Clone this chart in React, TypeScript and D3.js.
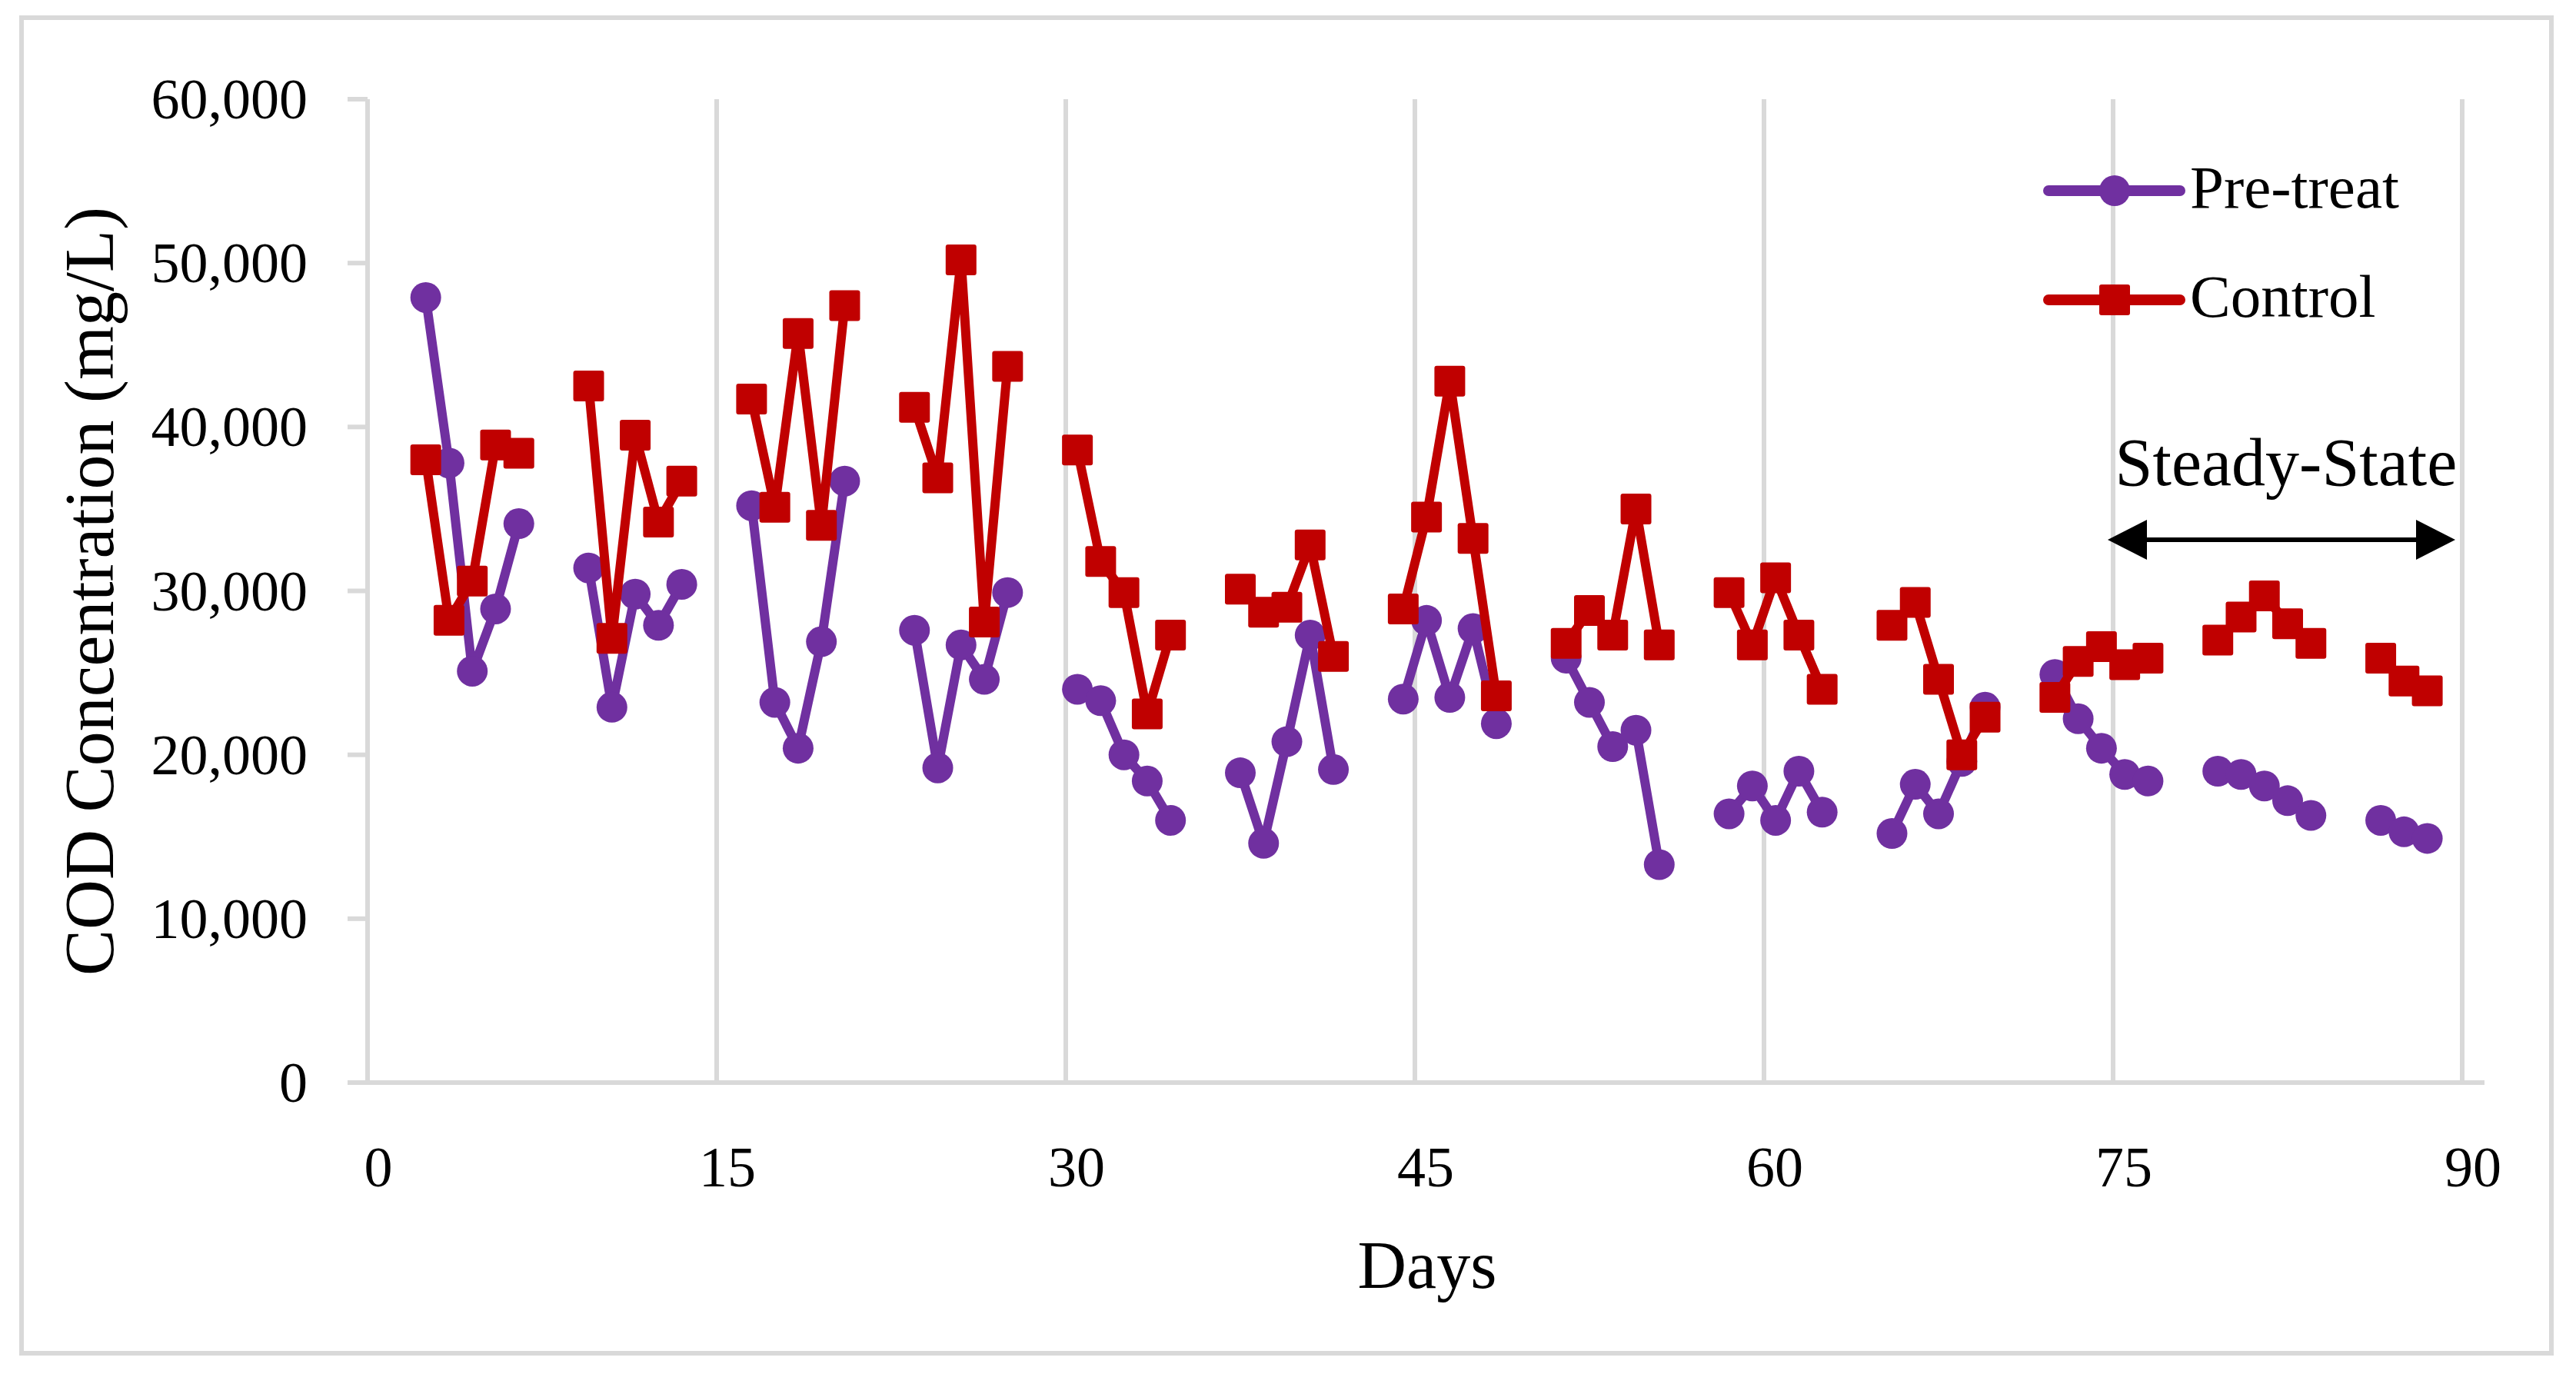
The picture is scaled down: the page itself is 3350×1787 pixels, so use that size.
import React from "react";
import * as d3 from "d3";

// ---- data ----
const days: number[] = [
  2.5, 3.5, 4.5, 5.5, 6.5,
  9.5, 10.5, 11.5, 12.5, 13.5,
  16.5, 17.5, 18.5, 19.5, 20.5,
  23.5, 24.5, 25.5, 26.5, 27.5,
  30.5, 31.5, 32.5, 33.5, 34.5,
  37.5, 38.5, 39.5, 40.5, 41.5,
  44.5, 45.5, 46.5, 47.5, 48.5,
  51.5, 52.5, 53.5, 54.5, 55.5,
  58.5, 59.5, 60.5, 61.5, 62.5,
  65.5, 66.5, 67.5, 68.5, 69.5,
  72.5, 73.5, 74.5, 75.5, 76.5,
  79.5, 80.5, 81.5, 82.5, 83.5,
  86.5, 87.5, 88.5,
];

const preTreat: number[] = [
  47900, 37800, 25100, 28900, 34100,
  31400, 22900, 29800, 27900, 30400,
  35200, 23200, 20400, 26900, 36700,
  27600, 19200, 26700, 24600, 29900,
  24000, 23300, 20000, 18400, 16000,
  18900, 14600, 20800, 27300, 19100,
  23400, 28200, 23500, 27700, 21900,
  25900, 23200, 20500, 21500, 13300,
  16400, 18100, 16000, 19000, 16500,
  15200, 18200, 16400, 19600, 22900,
  24900, 22200, 20400, 18800, 18400,
  19000, 18800, 18100, 17200, 16300,
  16000, 15300, 14900,
];

const control: number[] = [
  38000, 28200, 30600, 38900, 38400,
  42500, 27100, 39500, 34200, 36700,
  41700, 35100, 45700, 34000, 47400,
  41200, 36900, 50200, 28100, 43700,
  38600, 31800, 29900, 22500, 27300,
  30100, 28700, 29000, 32800, 26000,
  28900, 34500, 42800, 33200, 23600,
  26800, 28800, 27300, 35000, 26700,
  29900, 26700, 30800, 27300, 24000,
  27900, 29300, 24600, 20000, 22300,
  23500, 25700, 26600, 25500, 25900,
  27000, 28400, 29700, 28000, 26800,
  25900, 24500, 23900,
];

const xTicks: number[] = [0, 15, 30, 45, 60, 75, 90];
const yTicks: number[] = [0, 10000, 20000, 30000, 40000, 50000, 60000];
const seriesNames: string[] = ["Pre-treat", "Control"];
const seriesColors: string[] = ["#7030A0", "#C00000"];

const W = 3350;
const H = 1787;
const FONT = "'Liberation Serif', 'Times New Roman', serif";
const GRID = "#d9d9d9";

type Pt = { d: number; v: number };

function segments(vals: number[]): Pt[][] {
  const segs: Pt[][] = [];
  let cur: Pt[] = [];
  days.forEach((d, i) => {
    if (cur.length && d - cur[cur.length - 1].d > 1.5) {
      segs.push(cur);
      cur = [];
    }
    cur.push({ d, v: vals[i] });
  });
  if (cur.length) segs.push(cur);
  return segs;
}

export default function App() {
  const x = d3.scaleLinear().domain([0, 90]).range([478, 3202]);
  const y = d3.scaleLinear().domain([0, 60000]).range([1408, 129]);
  const line = d3
    .line<Pt>()
    .x((p) => x(p.d))
    .y((p) => y(p.v));
  const fmt = d3.format(",");
  const plotTop = y(60000);
  const plotBottom = y(0);

  const series = [
    { name: seriesNames[0], vals: preTreat, color: seriesColors[0], marker: "circle" },
    { name: seriesNames[1], vals: control, color: seriesColors[1], marker: "square" },
  ];

  const marker = (kind: string, cx: number, cy: number, color: string, key: string) =>
    kind === "circle" ? (
      <circle key={key} cx={cx} cy={cy} r={20} fill={color} />
    ) : (
      <rect key={key} x={cx - 20} y={cy - 20} width={40} height={40} rx={3} fill={color} />
    );

  const arrowY = 702;
  const arrowL = 2741;
  const arrowR = 3193;

  return (
    <svg
      width={W}
      height={H}
      style={{ position: "absolute", left: 0, top: 0, background: "#fff" }}
      fontFamily={FONT}
    >
      <rect x={0} y={0} width={W} height={H} fill="#fff" />
      <rect x={28} y={23} width={3290} height={1737} fill="none" stroke={GRID} strokeWidth={6} />

      {/* vertical gridlines */}
      {xTicks.slice(1).map((t) => (
        <line key={"g" + t} x1={x(t)} x2={x(t)} y1={plotTop} y2={plotBottom} stroke={GRID} strokeWidth={6} />
      ))}
      {/* y axis */}
      <line x1={x(0)} x2={x(0)} y1={plotTop} y2={plotBottom} stroke={GRID} strokeWidth={6} />
      {yTicks.map((t) => (
        <line key={"yt" + t} x1={452} x2={x(0)} y1={y(t)} y2={y(t)} stroke={GRID} strokeWidth={6} />
      ))}
      {/* x axis */}
      <line x1={452} x2={3231} y1={plotBottom} y2={plotBottom} stroke={GRID} strokeWidth={6} />

      {/* y tick labels */}
      {yTicks.map((t) => (
        <text key={"yl" + t} x={400} y={y(t) + 25} fontSize={74} textAnchor="end" fill="#000">
          {fmt(t)}
        </text>
      ))}
      {/* x tick labels */}
      {xTicks.map((t) => (
        <text key={"xl" + t} x={x(t) + 14} y={1543} fontSize={74} textAnchor="middle" fill="#000">
          {t}
        </text>
      ))}

      {/* axis titles */}
      <text x={1856} y={1675} fontSize={88} textAnchor="middle" fill="#000">
        Days
      </text>
      <text
        transform={`translate(147,769) rotate(-90)`}
        fontSize={90}
        textAnchor="middle"
        fill="#000"
      >
        COD Concentration (mg/L)
      </text>

      {/* series */}
      {series.map((s) => (
        <g key={s.name}>
          {segments(s.vals).map((seg, i) => (
            <path
              key={i}
              d={line(seg) || ""}
              fill="none"
              stroke={s.color}
              strokeWidth={12}
              strokeLinejoin="round"
            />
          ))}
          {days.map((d, i) => marker(s.marker, x(d), y(s.vals[i]), s.color, s.name + i))}
        </g>
      ))}

      {/* legend */}
      {series.map((s, i) => {
        const ly = 248 + i * 142;
        return (
          <g key={"lg" + s.name}>
            <line x1={2664} x2={2835} y1={ly} y2={ly} stroke={s.color} strokeWidth={14} strokeLinecap="round" />
            {marker(s.marker, 2750, ly, s.color, "lm" + i)}
            <text x={2848} y={ly + 22} fontSize={79} fill="#000">
              {s.name}
            </text>
          </g>
        );
      })}

      {/* steady-state annotation */}
      <text x={2973} y={631} fontSize={88} textAnchor="middle" fill="#000">
        Steady-State
      </text>
      <line x1={arrowL + 45} x2={arrowR - 45} y1={arrowY} y2={arrowY} stroke="#000" strokeWidth={6} />
      <polygon
        points={`${arrowL},${arrowY} ${arrowL + 51},${arrowY - 26} ${arrowL + 51},${arrowY + 26}`}
        fill="#000"
      />
      <polygon
        points={`${arrowR},${arrowY} ${arrowR - 51},${arrowY - 26} ${arrowR - 51},${arrowY + 26}`}
        fill="#000"
      />
    </svg>
  );
}
